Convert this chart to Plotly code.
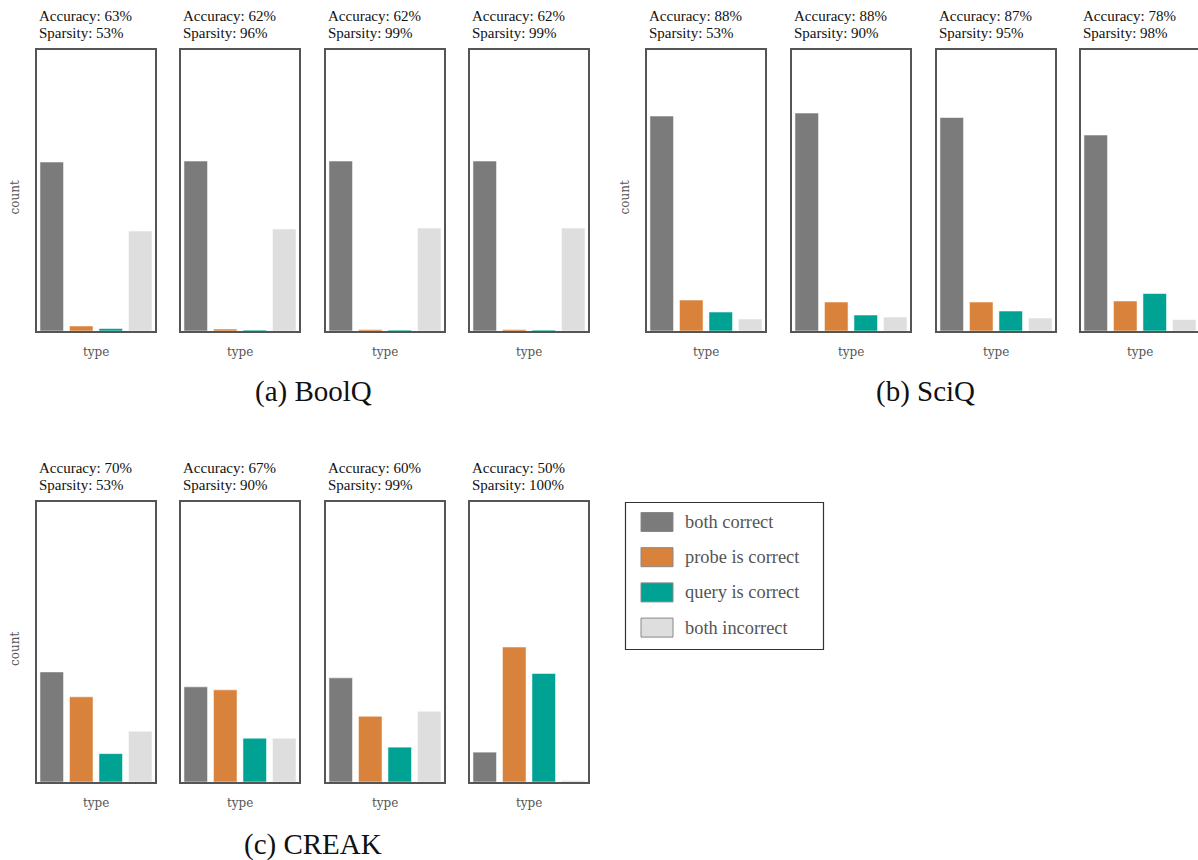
import plotly.graph_objects as go

# ---------------- data ----------------
types = ["both correct", "probe is correct", "query is correct", "both incorrect"]
type_colors = ["#7b7b7b", "#d9823b", "#00a293", "#dedede"]

boolq_accuracy = [63, 62, 62, 62]
boolq_sparsity = [53, 96, 99, 99]
boolq_counts = [
    [169, 5, 2.5, 100],
    [170, 2, 1, 102],
    [170, 1.5, 1, 103],
    [170, 1.5, 1, 103],
]

sciq_accuracy = [88, 88, 87, 78]
sciq_sparsity = [53, 90, 95, 98]
sciq_counts = [
    [215, 31, 19, 12],
    [218, 29, 16, 14],
    [213.5, 29, 20, 13],
    [196, 30, 37.5, 11.5],
]

creak_accuracy = [70, 67, 60, 50]
creak_sparsity = [53, 90, 99, 100]
creak_counts = [
    [110.5, 85.5, 28.5, 51],
    [95.5, 92.5, 44, 44],
    [104.5, 66, 35, 71],
    [30, 135.5, 109, 1.5],
]

group_captions = ["(a) BoolQ", "(b) SciQ", "(c) CREAK"]

# ---------------- layout helpers ----------------
W, H = 1198, 860
def fx(px):
    return px / W
def fy(py):
    return 1 - py / H

Y_MAX = 281
PANEL_W = 118
SLOT = PANEL_W / 4.0

groups = [
    dict(acc=boolq_accuracy, sp=boolq_sparsity, counts=boolq_counts,
         lefts=[37, 181, 326, 470], top=50, bottom=331, caption_x=313, caption_y=392),
    dict(acc=sciq_accuracy, sp=sciq_sparsity, counts=sciq_counts,
         lefts=[647, 792, 937, 1081], top=50, bottom=331, caption_x=925, caption_y=392),
    dict(acc=creak_accuracy, sp=creak_sparsity, counts=creak_counts,
         lefts=[37, 181, 326, 470], top=502, bottom=782, caption_x=313, caption_y=844),
]

fig = go.Figure()
layout = {}
annotations = []
shapes = []

ax_i = 0
for g in groups:
    for k, left in enumerate(g["lefts"]):
        ax_i += 1
        xa = "xaxis" if ax_i == 1 else f"xaxis{ax_i}"
        ya = "yaxis" if ax_i == 1 else f"yaxis{ax_i}"
        xr = "x" if ax_i == 1 else f"x{ax_i}"
        yr = "y" if ax_i == 1 else f"y{ax_i}"
        right = left + PANEL_W
        cut = right > W
        r_px = min(right, W)
        x_end = -0.5 + (r_px - left) / SLOT
        layout[xa] = dict(
            domain=[fx(left), fx(r_px)], anchor=yr, type="category",
            range=[-0.5, x_end], showline=True, mirror=True,
            linecolor="#555555", linewidth=1.5, showticklabels=False,
            ticks="", showgrid=False, zeroline=False, fixedrange=True,
        )
        layout[ya] = dict(
            domain=[fy(g["bottom"]), fy(g["top"])], anchor=xr,
            range=[0, Y_MAX], showline=True, mirror=(not cut),
            linecolor="#555555", linewidth=1.5, showticklabels=False,
            ticks="", showgrid=False, zeroline=False, fixedrange=True,
        )
        fig.add_trace(go.Bar(
            x=types, y=g["counts"][k], xaxis=xr, yaxis=yr,
            marker=dict(color=type_colors,
                        line=dict(color="rgba(255,255,255,0.55)", width=1)),
            showlegend=False, hoverinfo="x+y",
        ))
        # header text
        annotations.append(dict(
            text=f"Accuracy: {g['acc'][k]}%", xref="paper", yref="paper",
            x=fx(left), y=fy(g["top"] - 34), xanchor="left", yanchor="middle",
            showarrow=False, font=dict(family="Liberation Serif", size=15, color="#111111"),
        ))
        annotations.append(dict(
            text=f"Sparsity: {g['sp'][k]}%", xref="paper", yref="paper",
            x=fx(left), y=fy(g["top"] - 17), xanchor="left", yanchor="middle",
            showarrow=False, font=dict(family="Liberation Serif", size=15, color="#111111"),
        ))
        # x label
        annotations.append(dict(
            text="type", xref="paper", yref="paper",
            x=fx(left + PANEL_W / 2), y=fy(g["bottom"] + 21), xanchor="center", yanchor="middle",
            showarrow=False, font=dict(family="DejaVu Serif", size=12, color="#555555"),
        ))
        if k == 0:
            annotations.append(dict(
                text="count", xref="paper", yref="paper", textangle=-90,
                x=fx(left - 22), y=fy((g["top"] + g["bottom"]) / 2 + 7),
                xanchor="center", yanchor="middle", showarrow=False,
                font=dict(family="DejaVu Serif", size=12, color="#555555"),
            ))

for g, cap in zip(groups, group_captions):
    annotations.append(dict(
        text=cap, xref="paper", yref="paper", x=fx(g["caption_x"]), y=fy(g["caption_y"]),
        xanchor="center", yanchor="middle", showarrow=False,
        font=dict(family="Liberation Serif", size=29, color="#111111"),
    ))

# ---------------- legend (custom box) ----------------
shapes.append(dict(type="rect", xref="paper", yref="paper",
                   x0=fx(625.5), x1=fx(823.5), y0=fy(649.5), y1=fy(502.5),
                   line=dict(color="#333333", width=1.2), fillcolor="white"))
for i, (name, col) in enumerate(zip(types, type_colors)):
    top = 512.5 + i * 35.2
    shapes.append(dict(type="rect", xref="paper", yref="paper",
                       x0=fx(641), x1=fx(673), y0=fy(top + 19), y1=fy(top),
                       line=dict(color="#888888", width=1), fillcolor=col))
    annotations.append(dict(
        text=name, xref="paper", yref="paper", x=fx(683), y=fy(top + 9.5),
        xanchor="left", yanchor="middle", showarrow=False,
        font=dict(family="Liberation Serif", size=18.4, color="#555555"),
    ))

fig.update_layout(
    width=W, height=H, margin=dict(l=0, r=0, t=0, b=0),
    paper_bgcolor="white", plot_bgcolor="white",
    bargap=0.2, annotations=annotations, shapes=shapes,
    showlegend=False, **layout,
)

fig.write_html(
    "out.html",
    config={"displayModeBar": False},
    post_script="document.body.style.margin='0';document.documentElement.style.overflow='hidden';",
)
